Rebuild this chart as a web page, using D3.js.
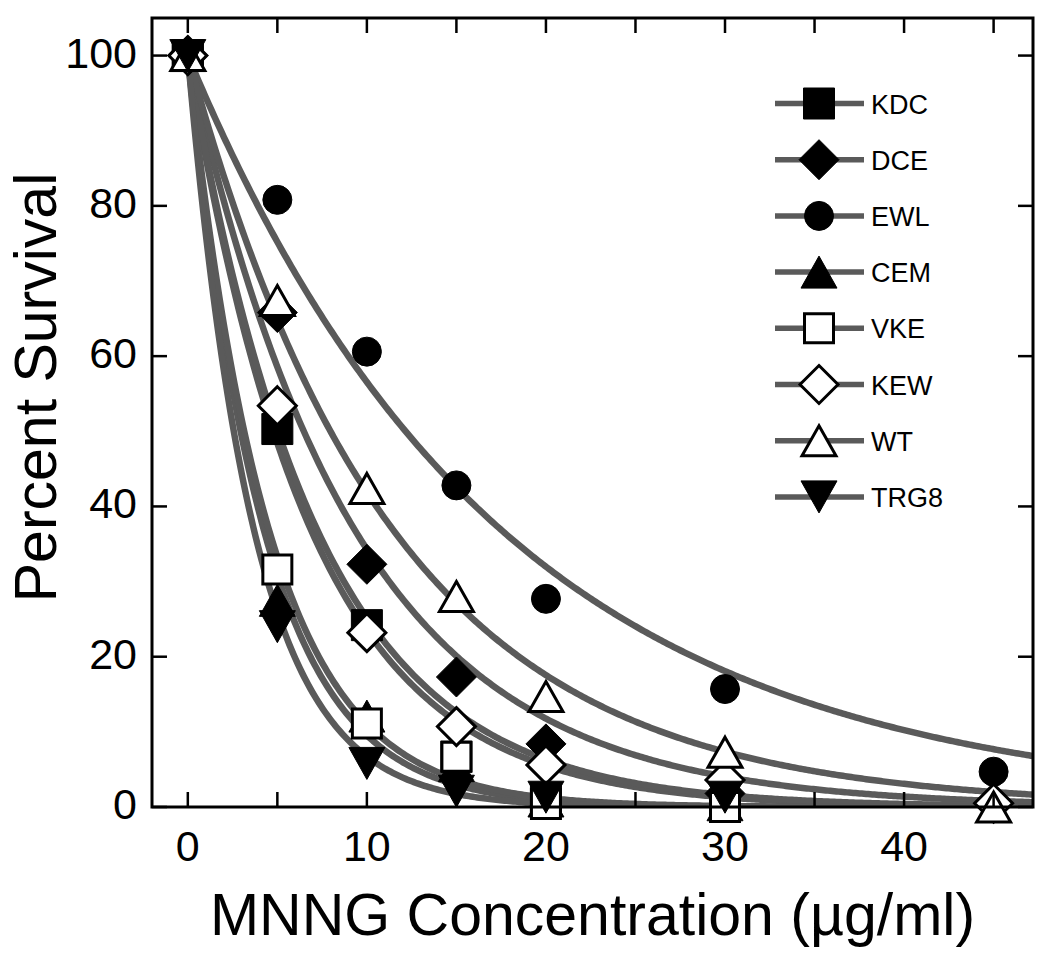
<!DOCTYPE html>
<html>
<head>
<meta charset="utf-8">
<script src="https://cdn.jsdelivr.net/npm/d3@7"></script>
<style>
  html, body { margin: 0; padding: 0; background: #fff; }
  svg { display: block; }
  text { font-family: "Liberation Sans", Arial, Helvetica, sans-serif; fill: #000; }
</style>
</head>
<body>
<svg id="chart" width="1050" height="958"></svg>
<script>
// ---------- DATA ----------
const seriesNames = ["KDC", "DCE", "EWL", "CEM", "VKE", "KEW", "WT", "TRG8"];
const seriesShapes = ["square", "diamond", "circle", "triangle", "square", "diamond", "triangle", "triangleDown"];
const seriesFilled = [true, true, true, true, false, false, false, true];

const doses = [0, 5, 10, 15, 20, 30, 45];
const kdcValues  = [100, 50.3, 24.2, 6.7, 1.2, 0.3, null];
const dceValues  = [100, 65.8, 32.3, 17.3, 8.4, 1.8, null];
const ewlValues  = [100, 80.8, 60.6, 42.8, 27.7, 15.7, 4.7];
const cemValues  = [100, 27.5, 12.1, 5.5, 0.8, 0.3, null];
const vkeValues  = [100, 31.6, 11.1, 6.7, 0.4, 0.0, null];
const kewValues  = [100, 53.4, 23.2, 10.7, 5.6, 3.6, 0.5];
const wtValues   = [100, 67.4, 42.4, 28.0, 14.7, 7.3, 0.0];
const trg8Values = [100, 24.0, 5.8, 2.1, 1.3, 1.3, null];
const allValues = [kdcValues, dceValues, ewlValues, cemValues, vkeValues, kewValues, wtValues, trg8Values];

// fitted exponential decay constants (per µg/ml) of the drawn survival curves
const fitRates = [0.145, 0.107, 0.057, 0.235, 0.22, 0.138, 0.087, 0.27];

const xTicks = [0, 5, 10, 15, 20, 25, 30, 35, 40, 45];
const xTickLabels = [0, 10, 20, 30, 40];
const yTicks = [0, 20, 40, 60, 80, 100];

// ---------- LAYOUT ----------
const svg = d3.select("#chart");
const L = 152, R = 1033, T = 18, B = 807;
const x = d3.scaleLinear().domain([-2, 47.2]).range([L, R]);
const y = d3.scaleLinear().domain([0, 105]).range([B, T]);
const curveColor = "#5a5a5a";

// clip
svg.append("defs").append("clipPath").attr("id", "clip")
  .append("rect").attr("x", L).attr("y", T).attr("width", R - L).attr("height", B - T);

// ---------- CURVES ----------
const curveG = svg.append("g").attr("clip-path", "url(#clip)");
const xMax = x.domain()[1];
const samples = d3.range(0, 401).map(i => i * xMax / 400);
fitRates.forEach((k, i) => {
  const pts = samples.map(d => [d, 100 * Math.exp(-k * d)]);
  curveG.append("path")
    .datum(pts)
    .attr("fill", "none")
    .attr("stroke", curveColor)
    .attr("stroke-width", 6.5)
    .attr("d", d3.line().x(d => x(d[0])).y(d => y(d[1])));
});

// ---------- MARKERS ----------
function shapePath(shape, filled) {
  switch (shape) {
    case "square": { const h = filled ? 15.5 : 14.5; return `M${-h},${-h}H${h}V${h}H${-h}Z`; }
    case "diamond": { const h = filled ? 20 : 19; return `M0,${-h}L${h},0L0,${h}L${-h},0Z`; }
    case "circle": { const r = 14.5; return `M${r},0A${r},${r} 0 1,1 ${-r},0A${r},${r} 0 1,1 ${r},0Z`; }
    case "triangle": { const w = filled ? 18 : 17, h = filled ? 16 : 15; return `M0,${-h}L${w},${h}L${-w},${h}Z`; }
    case "triangleDown": { const w = 18, h = 16; return `M0,${h}L${w},${-h}L${-w},${-h}Z`; }
  }
}
function drawMarker(g, shape, filled, cx, cy) {
  g.append("path")
    .attr("d", shapePath(shape, filled))
    .attr("transform", `translate(${cx},${cy})`)
    .attr("fill", filled ? "#000" : "#fff")
    .attr("stroke", "#000")
    .attr("stroke-width", filled ? 1 : 3)
    .attr("stroke-linejoin", "miter");
}
const markG = svg.append("g");
allValues.forEach((vals, i) => {
  vals.forEach((v, j) => {
    if (v === null) return;
    drawMarker(markG, seriesShapes[i], seriesFilled[i], x(doses[j]), y(v));
  });
});

// ---------- FRAME & TICKS ----------
const axG = svg.append("g").attr("stroke", "#000").attr("stroke-width", 2.5);
const tickLen = 15;
xTicks.forEach(t => {
  axG.append("line").attr("x1", x(t)).attr("x2", x(t)).attr("y1", B).attr("y2", B - tickLen);
  axG.append("line").attr("x1", x(t)).attr("x2", x(t)).attr("y1", T).attr("y2", T + tickLen);
});
yTicks.forEach(t => {
  axG.append("line").attr("x1", L).attr("x2", L + tickLen).attr("y1", y(t)).attr("y2", y(t));
  axG.append("line").attr("x1", R).attr("x2", R - tickLen).attr("y1", y(t)).attr("y2", y(t));
});
svg.append("rect").attr("x", L).attr("y", T).attr("width", R - L).attr("height", B - T)
  .attr("fill", "none").attr("stroke", "#000").attr("stroke-width", 3);

// tick labels
svg.append("g").selectAll("text").data(xTickLabels).join("text")
  .attr("x", d => x(d)).attr("y", 846)
  .attr("text-anchor", "middle").attr("dominant-baseline", "central")
  .attr("font-size", 43).text(d => d);
svg.append("g").selectAll("text").data(yTicks).join("text")
  .attr("x", 137).attr("y", d => y(d) - 3)
  .attr("text-anchor", "end").attr("dominant-baseline", "central")
  .attr("font-size", 43).text(d => d);

// axis titles
svg.append("text").attr("x", (L + R) / 2).attr("y", 935)
  .attr("text-anchor", "middle").attr("font-size", 59)
  .text("MNNG Concentration (\u00B5g/ml)");
svg.append("text").attr("transform", `translate(56,${(T + B) / 2 - 25}) rotate(-90)`)
  .attr("text-anchor", "middle").attr("font-size", 59)
  .text("Percent Survival");

// ---------- LEGEND ----------
const legG = svg.append("g");
const legY0 = 103.5, legDy = 56.2;
seriesNames.forEach((name, i) => {
  const ly = legY0 + i * legDy;
  legG.append("line").attr("x1", 775).attr("x2", 864).attr("y1", ly).attr("y2", ly)
    .attr("stroke", curveColor).attr("stroke-width", 5.5);
  drawMarker(legG, seriesShapes[i], seriesFilled[i], 819, ly);
  legG.append("text").attr("x", 871).attr("y", ly + 1)
    .attr("dominant-baseline", "central").attr("font-size", 27).text(name);
});
</script>
</body>
</html>
